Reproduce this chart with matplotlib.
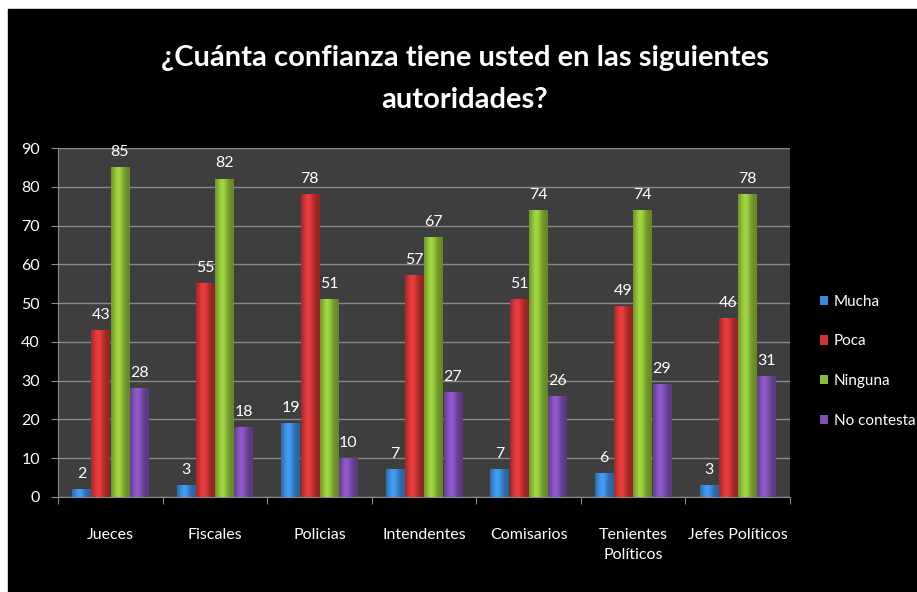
import numpy as np
import matplotlib
matplotlib.use("Agg")
import matplotlib.pyplot as plt
from matplotlib.colors import to_rgb
from matplotlib.patches import Rectangle

# ------------------------------------------------------------------ dados

categorias = ["Jueces", "Fiscales", "Policias", "Intendentes",
              "Comisarios", "Tenientes\nPolíticos", "Jefes Políticos"]
series = ["Mucha", "Poca", "Ninguna", "No contesta"]
mucha = [2, 3, 19, 7, 7, 6, 3]
poca = [43, 55, 78, 57, 51, 49, 46]
ninguna = [85, 82, 51, 67, 74, 74, 78]
no_contesta = [28, 18, 10, 27, 26, 29, 31]
yticks = [0, 10, 20, 30, 40, 50, 60, 70, 80, 90]

cores = ["#3a8ad8", "#cf3535", "#8dbd38", "#7f4fb3"]
FONT = ["Lato", "DejaVu Sans"]


def cilindro(ax, bar, cor):
    """Pinta a barra com um degradê horizontal (efeito cilindro)."""
    x0, y0 = bar.get_x(), bar.get_y()
    w, h = bar.get_width(), bar.get_height()
    if h <= 0:
        return
    t = np.linspace(0, 1, 32)
    perfil = 0.72 + 0.42 * np.exp(-((t - 0.38) / 0.3) ** 2)
    rgb = np.clip(np.outer(perfil, to_rgb(cor)), 0, 1)
    img = rgb[np.newaxis, :, :]
    ax.imshow(img, extent=[x0, x0 + w, y0, y0 + h], aspect="auto",
              interpolation="bilinear", zorder=3.5)


# ------------------------------------------------------------------ figura

W, H = 917, 592
fig = plt.figure(figsize=(W / 100, H / 100), dpi=100, facecolor="white")
# fundo preto (margem branca à esquerda e em cima)
fig.patches.append(Rectangle((8 / W, 0), 1 - 8 / W, (H - 9) / H,
                             transform=fig.transFigure, color="black", zorder=-1))

ax = fig.add_axes([58 / W, 1 - 497 / H, (790 - 58) / W, (497 - 148) / H])
ax.set_zorder(2)
ax.set_facecolor("#3e3e3e")

x = np.arange(len(categorias))
largura = 0.178
valores = [mucha, poca, ninguna, no_contesta]
for i, (nome, vals) in enumerate(zip(series, valores)):
    pos = x + (i - 1.5) * (largura + 0.006)
    bars = ax.bar(pos, vals, largura, color=cores[i], label=nome, zorder=3,
                  edgecolor="none")
    for b, v in zip(bars, vals):
        cilindro(ax, b, cores[i])
        ax.text(b.get_x() + b.get_width() / 2, v + 2.2, f"{v}",
                ha="center", va="bottom", color="white", fontsize=11.5,
                family=FONT)

ax.set_xlim(-0.5, len(categorias) - 0.5)
ax.set_ylim(0, 90)
ax.set_yticks(yticks)
ax.set_yticklabels([str(t) for t in yticks], color="white", fontsize=11.5,
                   family=FONT)
ax.grid(axis="y", color="#8a8a8a", linewidth=1, zorder=1)
ax.set_axisbelow(True)

# ticks nos limites das categorias, rótulos ao centro
ax.set_xticks(np.arange(-0.5, len(categorias)), minor=False)
ax.set_xticklabels([])
ax.set_xticks(x, minor=True)
ax.set_xticklabels(categorias, minor=True, color="white", fontsize=11.5,
                   family=FONT, va="top", linespacing=1.55)
ax.tick_params(axis="x", which="minor", length=0, pad=22)
ax.tick_params(axis="x", which="major", length=5, color="#8a8a8a")
ax.tick_params(axis="y", length=5, color="#8a8a8a", pad=8)

for s in ["top", "right"]:
    ax.spines[s].set_visible(False)
ax.spines["left"].set_color("#8a8a8a")
ax.spines["bottom"].set_color("#8a8a8a")

fig.text(465 / W, 1 - 58 / H, "¿Cuánta confianza tiene usted en las siguientes",
         ha="center", va="center", color="white", fontsize=21,
         fontweight="bold", family=FONT)
fig.text(465 / W, 1 - 100 / H, "autoridades?",
         ha="center", va="center", color="white", fontsize=21,
         fontweight="bold", family=FONT)

leg = fig.legend(loc="upper left", bbox_to_anchor=(806 / W, 1 - 281 / H),
                 frameon=False, labelcolor="white", handlelength=0.55,
                 handleheight=0.55, handletextpad=0.35, labelspacing=1.68,
                 prop={"family": FONT, "size": 11})

plt.savefig("out.png", dpi=100, facecolor="white")
plt.close()
